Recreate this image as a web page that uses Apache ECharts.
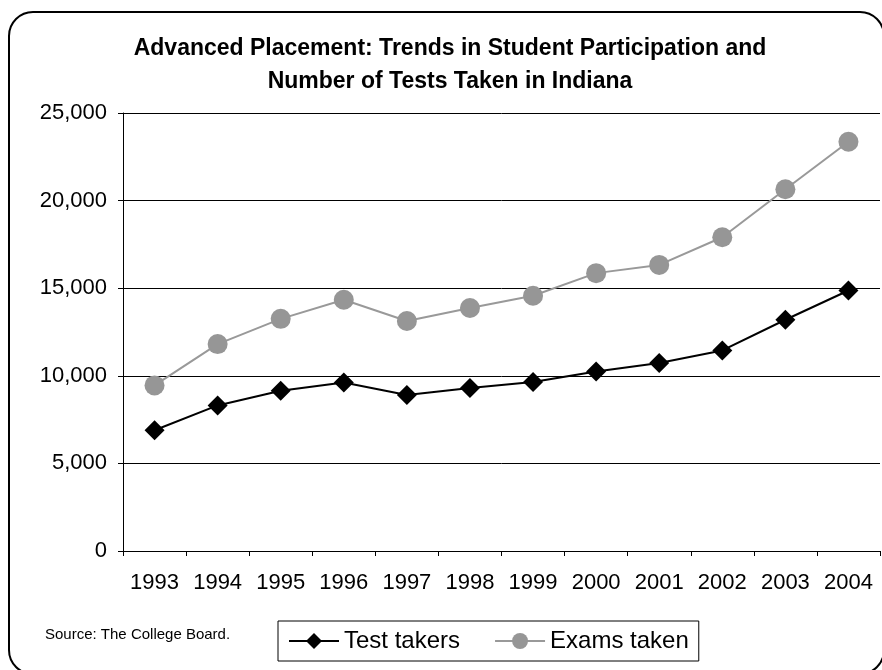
<!DOCTYPE html>
<html>
<head>
<meta charset="utf-8">
<script src="https://cdn.jsdelivr.net/npm/echarts@6/dist/echarts.min.js"></script>
<style>
  html, body { margin: 0; padding: 0; background: #fff; }
  #chart { width: 882px; height: 670px; }
</style>
</head>
<body>
<div id="chart"></div>
<script>
var years = ["1993", "1994", "1995", "1996", "1997", "1998", "1999", "2000", "2001", "2002", "2003", "2004"];
var testTakers = [6890, 8310, 9150, 9620, 8900, 9300, 9650, 10250, 10730, 11450, 13200, 14870];
var examsTaken = [9450, 11810, 13250, 14340, 13130, 13870, 14570, 15860, 16330, 17910, 20650, 23360];
var FONT = "'Liberation Sans', Arial, sans-serif";

var chart = echarts.init(document.getElementById("chart"));

var option = {
    animation: false,
    backgroundColor: "#fff",
    title: {
        text: "Advanced Placement: Trends in Student Participation and\nNumber of Tests Taken in Indiana",
        left: 445,
        textAlign: "center",
        top: 27,
        textStyle: {
            fontFamily: FONT,
            fontSize: 23,
            fontWeight: "bold",
            color: "#000",
            lineHeight: 33
        }
    },
    graphic: [
        {
            // rounded outer frame, runs off the right and bottom edges
            type: "rect",
            shape: { x: 9, y: 12, width: 875, height: 662, r: 24 },
            style: { fill: "none", stroke: "#000", lineWidth: 2 },
            silent: true
        },
        {
            type: "text",
            left: 45,
            top: 627,
            style: {
                text: "Source: The College Board.",
                font: "15px " + FONT,
                fill: "#000"
            }
        }
    ],
    legend: {
        orient: "horizontal",
        left: 278,
        top: 621,
        padding: [8, 10, 8, 10],
        itemGap: 34,
        itemWidth: 50,
        itemHeight: 20,
        borderColor: "#000",
        borderWidth: 1,
        textStyle: {
            fontFamily: FONT,
            fontSize: 24,
            color: "#000"
        },
        data: ["Test takers", "Exams taken"]
    },
    grid: {
        left: 123,
        right: 2,
        top: 113,
        bottom: 119,
        containLabel: false
    },
    xAxis: {
        type: "category",
        data: years,
        boundaryGap: true,
        axisLine: { lineStyle: { color: "#000", width: 1 } },
        axisTick: { show: true, length: 5, alignWithLabel: false, lineStyle: { color: "#000" } },
        axisLabel: {
            fontFamily: FONT,
            fontSize: 22,
            color: "#000",
            margin: 21,
            interval: 0
        },
        splitLine: { show: false }
    },
    yAxis: {
        type: "value",
        min: 0,
        max: 25000,
        interval: 5000,
        axisLine: { show: true, lineStyle: { color: "#000", width: 1 } },
        axisTick: { show: true, length: 5, lineStyle: { color: "#000" } },
        axisLabel: {
            fontFamily: FONT,
            fontSize: 22,
            color: "#000",
            margin: 16,
            formatter: function (value) {
                return value.toLocaleString("en-US");
            }
        },
        splitLine: { show: true, lineStyle: { color: "#000", width: 1 } }
    },
    series: [
        {
            name: "Test takers",
            type: "line",
            data: testTakers,
            symbol: "diamond",
            symbolSize: 20,
            showAllSymbol: true,
            lineStyle: { color: "#000", width: 2 },
            itemStyle: { color: "#000" },
            z: 3
        },
        {
            name: "Exams taken",
            type: "line",
            data: examsTaken,
            symbol: "circle",
            symbolSize: 20,
            showAllSymbol: true,
            lineStyle: { color: "#999", width: 2 },
            itemStyle: { color: "#969696" },
            z: 2
        }
    ]
};

chart.setOption(option);
</script>
</body>
</html>
